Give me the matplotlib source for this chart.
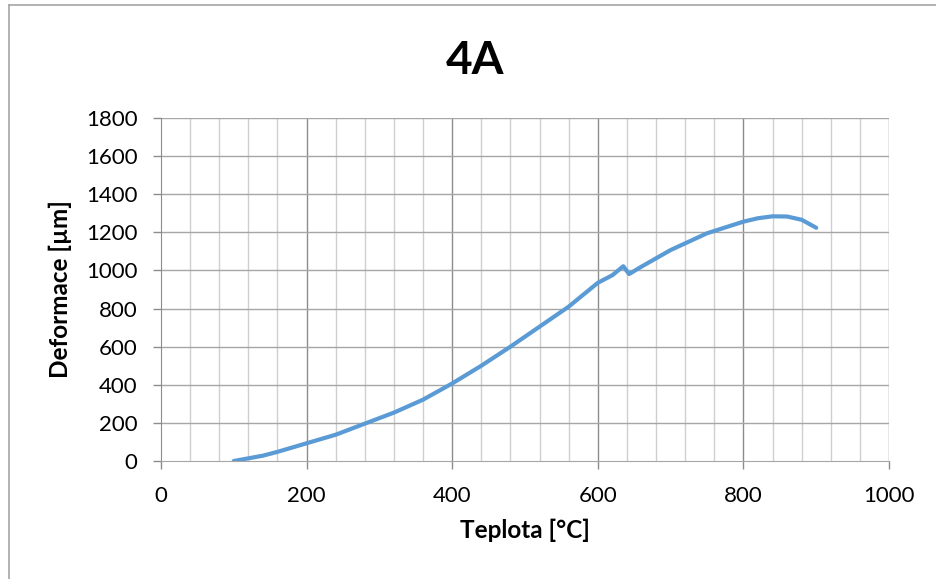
import numpy as np
import matplotlib.pyplot as plt
from matplotlib.lines import Line2D

plt.rcParams['font.family'] = ['Lato', 'DejaVu Sans']

# teplota a deformace
teplota = [100, 140, 160, 200, 240, 280, 320, 360, 400, 440, 480, 520,
           560, 600, 620, 635, 643, 660, 700, 750, 800, 820, 840, 860, 880, 900]
deformace = [0, 28, 48, 93, 138, 196, 254, 322, 407, 500, 600, 705,
             810, 935, 975, 1022, 981, 1020, 1107, 1195, 1256, 1274, 1284, 1283, 1266, 1224]

x_ticks = [0, 200, 400, 600, 800, 1000]
y_ticks = [0, 200, 400, 600, 800, 1000, 1200, 1400, 1600, 1800]

fig = plt.figure(figsize=(9.37, 5.79), dpi=100)
ax = fig.add_axes([161 / 937, 1 - 461 / 579, 728 / 937, 343 / 579])

# mřížka
for xv in np.arange(40, 1001, 40):
    major = xv % 200 == 0
    ax.axvline(xv, color='#8C8C8C' if major else '#CFCFCF', lw=1.0, zorder=1)
for yv in y_ticks[1:]:
    ax.axhline(yv, color='#A6A6A6', lw=1.0, zorder=1)

ax.plot(teplota, deformace, color='#5B9BD5', lw=3.0, solid_capstyle='round',
        solid_joinstyle='round', zorder=3)

ax.set_xlim(0, 1000)
ax.set_ylim(0, 1800)
ax.set_xticks(x_ticks)
ax.set_yticks(y_ticks)
ax.tick_params(axis='both', labelsize=16, length=6, width=1, color='#8C8C8C', pad=11)
ax.tick_params(axis='x', pad=12)

for s in ['top', 'right']:
    ax.spines[s].set_visible(False)
ax.spines['left'].set_color('#8C8C8C')
ax.spines['bottom'].set_color('#A6A6A6')

ax.set_xlabel('Teplota [°C]', fontsize=17.5, fontweight='bold', labelpad=9)
ax.set_ylabel('Deformace [µm]', fontsize=17.5, fontweight='bold', labelpad=10)
fig.text(475 / 937, 1 - 61 / 579, '4A', fontsize=33, fontweight='bold',
         ha='center', va='center')

# rámeček grafu
fig.add_artist(Line2D([9 / 937, 9 / 937], [0, 1 - 5 / 579], transform=fig.transFigure, color='#A6A6A6', lw=1.2))
fig.add_artist(Line2D([9 / 937, 1], [1 - 5 / 579, 1 - 5 / 579], transform=fig.transFigure, color='#A6A6A6', lw=1.2))

plt.savefig('out.png', dpi=100)
